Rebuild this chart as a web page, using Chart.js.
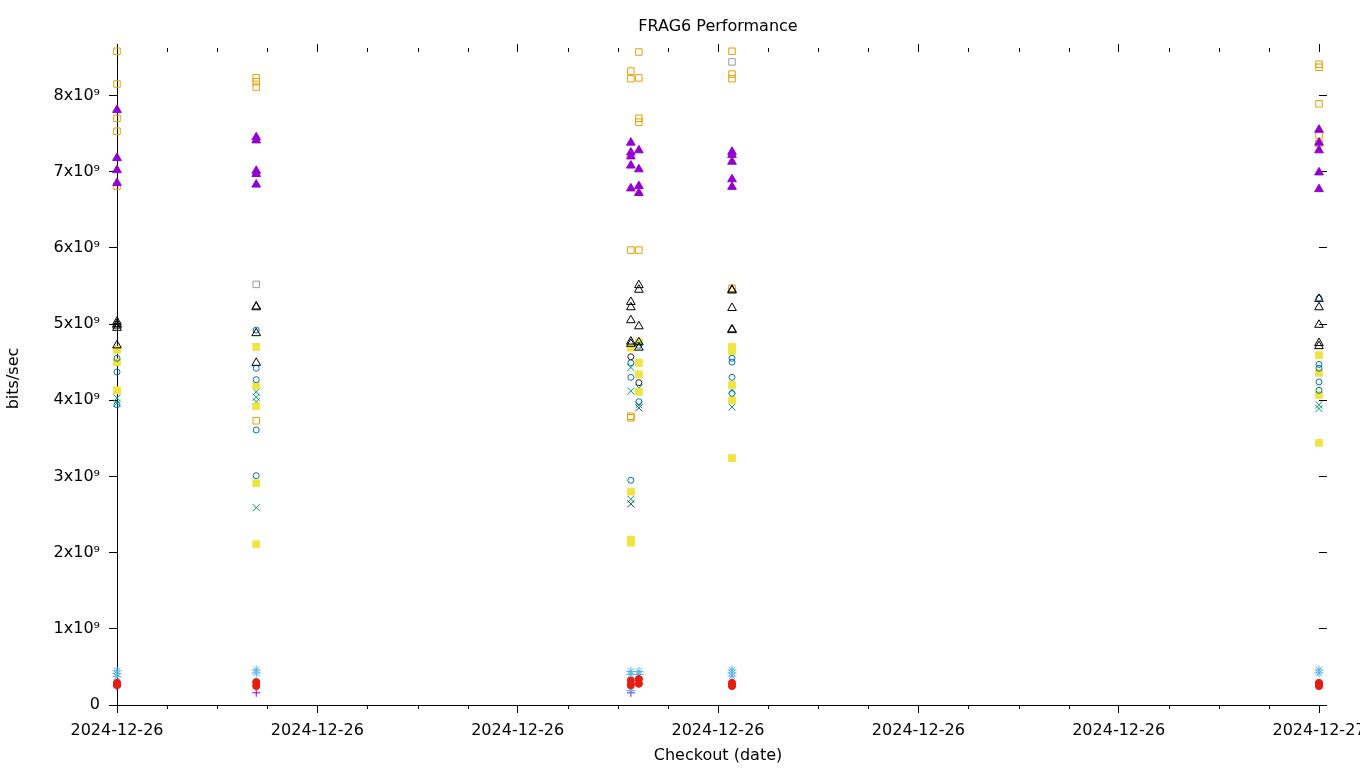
<!DOCTYPE html>
<html>
<head>
<meta charset="utf-8">
<title>FRAG6 Performance</title>
<script src="https://cdn.jsdelivr.net/npm/chart.js@4.4.1/dist/chart.umd.min.js"></script>
<style>
  html, body { margin: 0; padding: 0; background: #fff; }
  #chart { display: block; }
</style>
</head>
<body>
<canvas id="chart" width="1360" height="768"></canvas>
<script>
// Checkout times, hours after 2024-12-26 00:00 (one entry per column of points)
const checkoutHours = [0, 2.78, 10.26, 10.42, 12.28, 24.0];

// x axis: labelled tick every 4 hours, small tick every hour
const xTickHours = [0, 4, 8, 12, 16, 20, 24];
const xTickLabels = ['2024-12-26', '2024-12-26', '2024-12-26', '2024-12-26',
                     '2024-12-26', '2024-12-26', '2024-12-27'];
const xMinorHours = [1, 2, 3, 5, 6, 7, 9, 10, 11, 13, 14, 15, 17, 18, 19, 21, 22, 23];

const yTickValues = [0, 1e9, 2e9, 3e9, 4e9, 5e9, 6e9, 7e9, 8e9];
const yTickLabels = ['0', '1x10⁹', '2x10⁹', '3x10⁹', '4x10⁹', '5x10⁹', '6x10⁹', '7x10⁹', '8x10⁹'];

// Throughput per checkout column, in 1e9 bits/sec
const purplePlus     = [[0.24], [0.16], [0.16, 0.28], [0.28], [0.25], [0.28]];
const greenCross     = [[4.03, 3.96], [4.11, 4.04, 3.98, 2.59], [4.43, 4.12, 2.70], [4.16, 3.94], [4.13, 3.91], [3.94, 3.89]];
const blueStar       = [[0.45, 0.41, 0.37], [0.46, 0.42], [0.44, 0.40, 0.19], [0.44, 0.40], [0.46, 0.42, 0.38], [0.46, 0.42]];
const orangeSquare   = [[8.58, 8.15, 7.70, 7.53, 6.81], [8.23, 8.18, 8.11, 3.73], [8.32, 8.22, 5.97, 3.79, 3.77],
                        [8.57, 8.23, 7.70, 7.65, 5.97], [8.58, 8.28, 8.22, 5.47], [8.41, 8.37, 7.89, 7.48, 7.37]];
const yellowSquare   = [[4.66, 4.50, 4.13], [4.70, 4.19, 3.92, 2.91, 2.11], [4.69, 2.80, 2.17, 2.13],
                        [4.76, 4.49, 4.34, 4.11], [4.70, 4.64, 4.20, 4.00, 3.24], [4.59, 4.36, 4.07, 3.44]];
const blueCircle     = [[4.55, 4.37, 3.94], [4.92, 4.42, 4.27, 3.61, 3.01], [4.49, 4.30, 2.95],
                        [4.72, 3.98], [4.55, 4.50, 4.30, 4.09], [5.34, 4.47, 4.42, 4.24, 4.13]];
const redCircle      = [[0.29, 0.26], [0.30, 0.25], [0.32, 0.26], [0.34, 0.28], [0.29, 0.25], [0.29, 0.25]];
const blackTriangle  = [[5.03, 5.00, 4.98, 4.95, 4.72], [5.23, 5.22, 4.88, 4.49], [5.29, 5.22, 5.05, 4.77, 4.74],
                        [5.51, 5.45, 4.97, 4.76, 4.69], [5.45, 5.44, 5.21, 4.93, 4.92], [5.33, 5.22, 4.99, 4.75, 4.71]];
const purpleTriangle = [[7.81, 7.18, 7.02, 6.85], [7.45, 7.41, 7.01, 6.97, 6.83], [7.38, 7.25, 7.20, 7.08, 6.78],
                        [7.28, 7.03, 6.81, 6.72], [7.26, 7.22, 7.13, 6.90, 6.80], [7.55, 7.38, 7.28, 6.99, 6.77]];
const graySquare     = [[], [5.52], [], [], [8.44], []];
const blackCircle    = [[], [], [4.57], [4.23], [], []];
const darkCross      = [[], [], [2.64], [3.90], [], []];

const GIGA = 1e9;

function toPoints(columns) {
  return columns.flatMap((vals, i) => vals.map(v => ({ x: checkoutHours[i], y: v * GIGA })));
}

// gnuplot style marks: shape, colour, filled or open
function series(label, columns, color, pointStyle, radius, filled) {
  return {
    label,
    data: toPoints(columns),
    pointStyle,
    pointRadius: radius,
    borderColor: color,
    backgroundColor: filled ? color : 'rgba(0,0,0,0)',
    borderWidth: 1,
    showLine: false,
    clip: false
  };
}

// listed in gnuplot plotting order; reversed so later series sit on top
const datasets = [
  series('purple +', purplePlus, '#9400D3', 'cross', 4, false),
  series('green x', greenCross, '#009E73', 'crossRot', 5, false),
  series('blue *', blueStar, '#56B4E9', 'star', 4.5, false),
  series('orange square', orangeSquare, '#E69F00', 'rect', 4.6, false),
  series('yellow square', yellowSquare, '#F0E442', 'rect', 4.8, true),
  series('blue circle', blueCircle, '#0072B2', 'circle', 3, false),
  series('red circle', redCircle, '#E51E10', 'circle', 3.6, true),
  series('black triangle', blackTriangle, '#000000', 'triangle', 5, false),
  series('purple triangle', purpleTriangle, '#9400D3', 'triangle', 5, true),
  series('gray square', graySquare, '#999999', 'rect', 4.6, false),
  series('black circle', blackCircle, '#222222', 'circle', 3, false),
  series('dark x', darkCross, '#1F4E5A', 'crossRot', 5, false)
].reverse();

// small hour ticks on bottom and top edges
const minorTicks = {
  id: 'minorTicks',
  afterDraw(chart) {
    const { ctx, chartArea, scales } = chart;
    ctx.save();
    ctx.strokeStyle = '#000';
    ctx.lineWidth = 1;
    ctx.beginPath();
    xMinorHours.forEach(h => {
      const px = Math.round(scales.x.getPixelForValue(h)) + 0.5;
      ctx.moveTo(px, chartArea.bottom);
      ctx.lineTo(px, chartArea.bottom + 4);
      ctx.moveTo(px, chartArea.top);
      ctx.lineTo(px, chartArea.top - 4);
    });
    ctx.stroke();
    ctx.restore();
  }
};

Chart.defaults.font.family = '"DejaVu Sans", sans-serif';
Chart.defaults.font.size = 16;
Chart.defaults.color = '#000';

const tickGrid = { drawOnChartArea: false, tickLength: 8, tickColor: '#000', tickWidth: 1 };

new Chart(document.getElementById('chart'), {
  type: 'scatter',
  data: { datasets },
  plugins: [minorTicks],
  options: {
    responsive: false,
    animation: false,
    events: [],
    layout: { padding: 0 },
    plugins: {
      legend: { display: false },
      tooltip: { enabled: false },
      title: {
        display: true,
        text: 'FRAG6 Performance',
        fullSize: false,
        font: { size: 16, weight: 'normal' },
        color: '#000',
        padding: { top: 17, bottom: 7.8 }
      }
    },
    scales: {
      x: {
        type: 'linear',
        position: 'bottom',
        min: 0,
        max: 24,
        afterBuildTicks: s => { s.ticks = xTickHours.map(v => ({ value: v })); },
        ticks: {
          callback: (v, i) => xTickLabels[i],
          maxRotation: 0,
          autoSkip: false,
          padding: 8
        },
        grid: tickGrid,
        border: { display: true, color: '#000', width: 1 },
        title: { display: true, text: 'Checkout (date)', padding: { top: 0, bottom: 2.4 } },
        afterFit: s => { s.height = 63; s.paddingLeft = 0; s.paddingRight = 0; }
      },
      x2: {
        type: 'linear',
        position: 'top',
        min: 0,
        max: 24,
        afterBuildTicks: s => { s.ticks = xTickHours.map(v => ({ value: v })); },
        ticks: { display: false },
        grid: tickGrid,
        border: { display: false },
        afterFit: s => { s.height = 8; s.paddingLeft = 0; s.paddingRight = 0; }
      },
      y: {
        type: 'linear',
        position: 'left',
        min: 0,
        max: 8.57e9,
        afterBuildTicks: s => { s.ticks = yTickValues.map(v => ({ value: v })); },
        ticks: { callback: (v, i) => yTickLabels[i], padding: 9 },
        grid: tickGrid,
        border: { display: true, color: '#000', width: 1 },
        title: { display: true, text: 'bits/sec', padding: { top: 4.4, bottom: 0 } },
        afterFit: s => { s.width = 117; s.paddingTop = 0; s.paddingBottom = 0; }
      },
      y2: {
        type: 'linear',
        position: 'right',
        min: 0,
        max: 8.57e9,
        afterBuildTicks: s => { s.ticks = yTickValues.map(v => ({ value: v })); },
        ticks: { display: false },
        grid: tickGrid,
        border: { display: false },
        afterFit: s => { s.width = 41; s.paddingTop = 0; s.paddingBottom = 0; }
      }
    }
  }
});
</script>
</body>
</html>
